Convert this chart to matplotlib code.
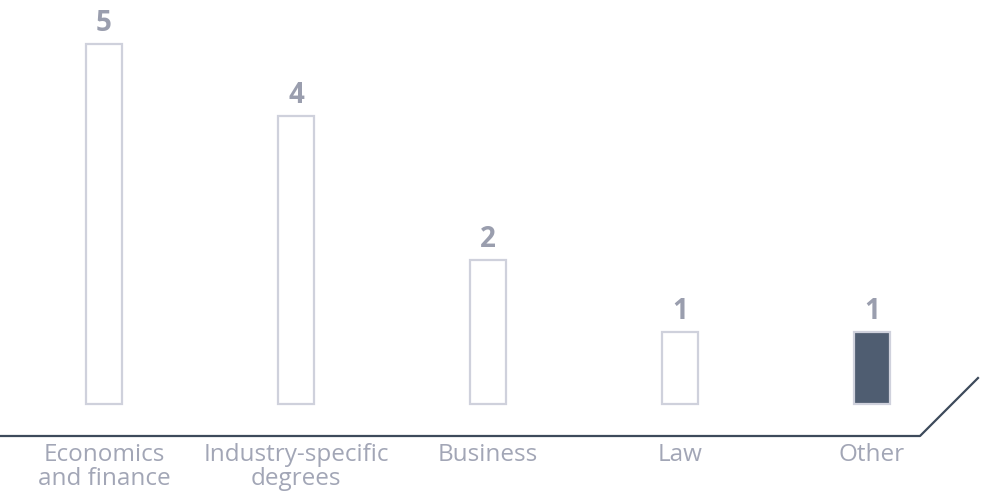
import matplotlib.pyplot as plt

categories = ["Economics\nand finance", "Industry-specific\ndegrees", "Business", "Law", "Other"]
values = [5, 4, 2, 1, 1]
highlight = [False, False, False, False, True]

fig = plt.figure(figsize=(10.01, 4.96), dpi=100)
ax = fig.add_axes([0, 0, 1, 1])
ax.set_xlim(-104 / 192, (1001 - 104) / 192)
ax.set_ylim((404 - 496) / 72, 404 / 72)
ax.axis("off")

x = list(range(len(categories)))
face = ["#4f5d71" if h else "white" for h in highlight]
ax.bar(x, values, width=36 / 192, color=face, edgecolor="#cfd1dc", linewidth=1.6)

for xi, v, lab in zip(x, values, categories):
    ax.text(xi, v + 0.08, str(v), ha="center", va="bottom", fontsize=20,
            fontweight="bold", color="#9a9eae", family="Open Sans")
    ax.text(xi, -0.54, lab, ha="center", va="top", fontsize=17.5,
            color="#a2a6b6", family="Open Sans", linespacing=1.0)

# baseline with diagonal kink at the right
ax.plot([-104 / 192, (920 - 104) / 192, (978 - 104) / 192],
        [-32 / 72, -32 / 72, 26 / 72], color="#3d4a5b", lw=1.6, clip_on=False)

fig.savefig("out.png", dpi=100)
